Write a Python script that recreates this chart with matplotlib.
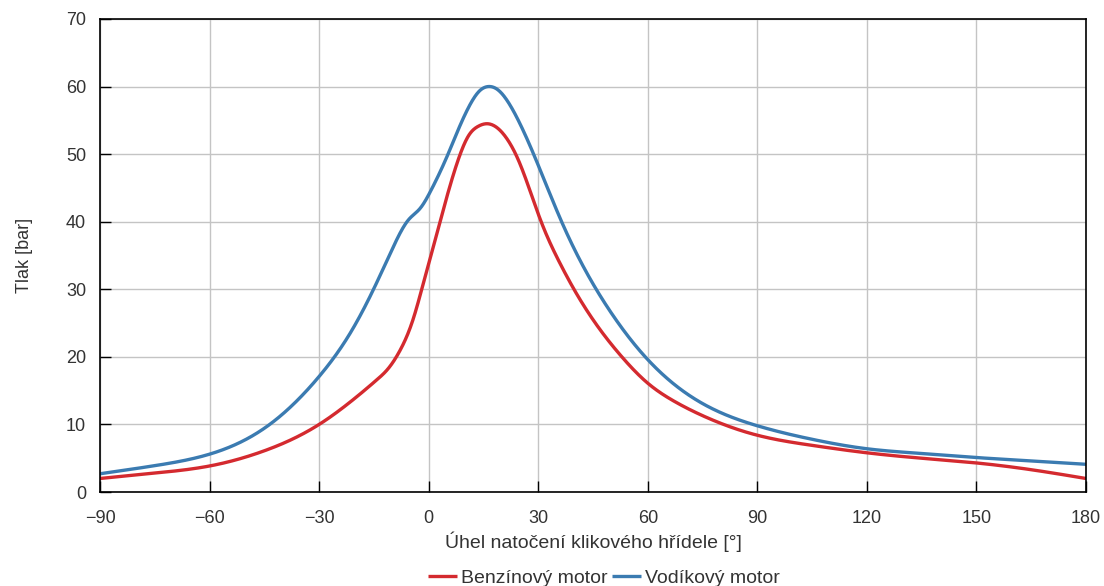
import numpy as np
import matplotlib
matplotlib.use("Agg")
import matplotlib.pyplot as plt

plt.rcParams['font.family'] = ['Liberation Sans', 'DejaVu Sans']

# Data
benzin_x = [-90, -75, -60, -45, -30, -22, -14, -11.5, -7.8, -4.3, -1.9, 3.1, 8.3, 11, 13.5,
            16, 21.4, 24.5, 30.8, 36, 40, 45, 52.9, 60, 67, 75, 90, 105, 120, 135, 150,
            165, 180]
benzin_y = [2.0, 2.8, 3.85, 6.1, 10.0, 13.1, 16.7, 18.0, 21.0, 25.5, 30.0, 40.0, 49.5, 52.8,
            54.1, 54.5, 52.3, 49.2, 40.0, 33.8, 29.8, 25.5, 20.0, 16.1, 13.5, 11.3, 8.4, 6.9,
            5.8, 5.0, 4.3, 3.3, 2.0]

vodik_x = [-90, -75, -60, -44.3, -30, -21.5, -15.1, -10.1, -5.5, -2.3, 0.5, 5.3, 8, 11, 14,
           16.3, 19, 22, 25, 28.5, 36.4, 45, 50, 59.3, 74, 90, 105, 120, 135, 150,
           165, 180]
vodik_y = [2.7, 3.9, 5.6, 9.7, 17.1, 23.5, 30.0, 35.8, 40.3, 42.0, 44.5, 50.0, 53.5, 57.0,
           59.4, 60.0, 59.5, 57.5, 54.5, 50.3, 40.0, 30.8, 26.5, 20.0, 13.4, 9.8, 7.8,
           6.4, 5.7, 5.1, 4.6, 4.1]

series_names = ['Benzínový motor', 'Vodíkový motor']
colors = ['#d42a2f', '#3b7bb1']
x_ticks = [-90, -60, -30, 0, 30, 60, 90, 120, 150, 180]
y_ticks = [0, 10, 20, 30, 40, 50, 60, 70]


def natural_spline(x, y, xs):
    """Smooth rendering of the read points (natural cubic spline)."""
    x = np.asarray(x, float); y = np.asarray(y, float)
    n = len(x)
    h = np.diff(x)
    A = np.zeros((n, n)); b = np.zeros(n)
    A[0, 0] = 1; A[-1, -1] = 1
    for i in range(1, n - 1):
        A[i, i - 1] = h[i - 1]
        A[i, i] = 2 * (h[i - 1] + h[i])
        A[i, i + 1] = h[i]
        b[i] = 6 * ((y[i + 1] - y[i]) / h[i] - (y[i] - y[i - 1]) / h[i - 1])
    M = np.linalg.solve(A, b)
    idx = np.clip(np.searchsorted(x, xs) - 1, 0, n - 2)
    x0 = x[idx]; x1 = x[idx + 1]; hh = h[idx]
    return (M[idx] * (x1 - xs) ** 3 / (6 * hh) + M[idx + 1] * (xs - x0) ** 3 / (6 * hh)
            + (y[idx] / hh - M[idx] * hh / 6) * (x1 - xs)
            + (y[idx + 1] / hh - M[idx + 1] * hh / 6) * (xs - x0))


fig = plt.figure(figsize=(11.04, 5.86), dpi=100)
ax = fig.add_axes([0.0906, 0.1604, 0.8931, 0.8072])

for xs_, ys_, name, c in [(benzin_x, benzin_y, series_names[0], colors[0]),
                          (vodik_x, vodik_y, series_names[1], colors[1])]:
    xx = np.linspace(min(xs_), max(xs_), 2000)
    ax.plot(xx, natural_spline(xs_, ys_, xx), color=c, lw=2.4, label=name,
            solid_capstyle='butt')

ax.set_xlim(-90, 180)
ax.set_ylim(0, 70)
ax.set_xticks(x_ticks)
ax.set_yticks(y_ticks)
ax.set_xticklabels([('\u2212' + str(-v)) if v < 0 else str(v) for v in x_ticks])
ax.grid(True, color='#c4c4c4', lw=1)
ax.set_axisbelow(True)
ax.tick_params(direction='in', length=8, width=1, colors='black', labelcolor='#333333',
               labelsize=13)
ax.tick_params(axis='x', pad=13)
ax.tick_params(axis='y', pad=10)
for s in ax.spines.values():
    s.set_color('black'); s.set_linewidth(1.2)

ax.set_xlabel('Úhel natočení klikového hřídele [°]', fontsize=14, color='#333333', labelpad=3)
ax.set_ylabel('Tlak [bar]', fontsize=13, color='#333333', labelpad=24)

handles, labels = ax.get_legend_handles_labels()
fig.legend(handles, labels, loc='center', bbox_to_anchor=(0.547, 0.014), ncol=2,
           frameon=False, fontsize=14, handlelength=1.5, handletextpad=0.2,
           columnspacing=0.2, labelcolor='#333333', borderaxespad=0, borderpad=0.1)

fig.savefig('out.png', dpi=100)
